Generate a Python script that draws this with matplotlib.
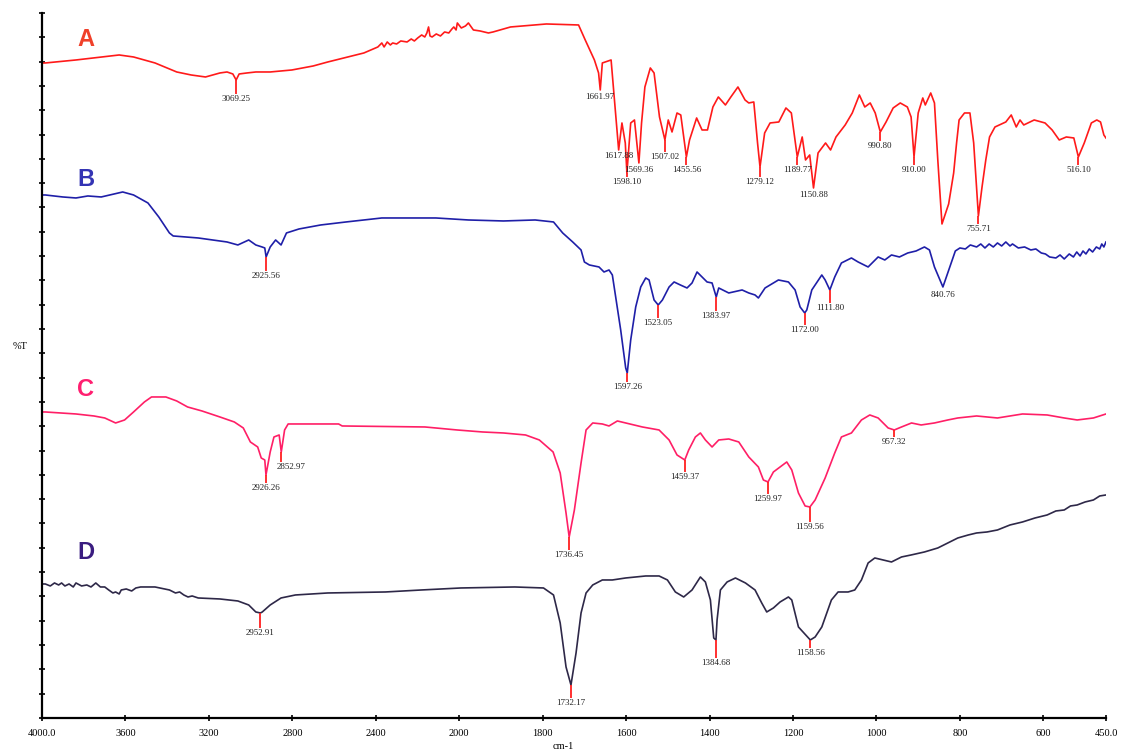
import numpy as np
import matplotlib.pyplot as plt


# wavenumber (cm-1) / stacked %T for the four spectra, high to low wavenumber
a_wn = [4000, 3984, 3837, 3630, 3561, 3458, 3354, 3285, 3216, 3147, 3113, 3085, 3069.25, 3055, 3018,
        2975, 2906, 2802, 2700, 2630, 2457, 2390, 2371, 2360, 2345, 2330, 2319, 2300, 2280, 2250,
        2230, 2215, 2199, 2180, 2165, 2155, 2147, 2140, 2130, 2110, 2090, 2070, 2050, 2035, 2026,
        2015, 2009, 1995, 1985, 1978, 1966, 1950, 1930, 1919, 1877, 1791, 1714, 1698, 1676, 1666,
        1661.97, 1657, 1636,
        1632, 1617.88, 1610, 1602, 1598.10, 1589, 1580, 1569.36, 1563, 1555, 1542, 1533, 1520,
        1507.02, 1499, 1490, 1478, 1469, 1455.56, 1448, 1431, 1418, 1405, 1392, 1379, 1362, 1349,
        1332, 1315, 1306, 1294, 1285, 1279.12, 1268, 1255, 1234, 1217, 1204, 1189.77, 1178, 1170,
        1160, 1150.88, 1140, 1122, 1110, 1097, 1075, 1058, 1041, 1028, 1015, 1003, 990.80, 977, 960,
        943, 926, 917, 910.00, 900, 889, 883, 870, 861, 853, 843, 827, 815, 808, 802, 789, 776, 767,
        760, 755.71, 747, 738, 729, 716, 690, 677, 665, 656, 647, 622, 596, 579, 562, 545, 527,
        516.10, 502, 485, 472, 463, 455, 450]
a_t = [625, 625, 628, 633, 631, 625, 616, 613, 611, 615, 616, 614, 608, 614, 615,
       616, 616, 618, 622, 626, 635, 641, 645, 641, 646, 643, 645, 644, 647, 646,
       649, 647, 650, 653, 651, 655, 661, 652, 651, 654, 652, 656, 655, 659, 661,
       658, 665, 660, 662, 665, 658, 657, 655, 656, 661, 664, 663, 648, 628, 615,
       598, 625, 628,
       608, 538, 565, 545, 515, 565, 568, 525, 565, 601, 620, 615, 571,
       548, 568, 556, 575, 573, 531, 548, 570, 558, 558, 581, 591, 583, 591,
       601, 588, 585, 586, 545, 521, 555, 565, 566, 580, 575, 531, 551, 528,
       533, 500, 535, 545, 538, 551, 563, 575, 593, 581, 585, 575, 556, 566, 580,
       585, 581, 571, 531, 575, 590, 583, 595, 585, 528, 464, 484, 515, 545, 568, 575, 575, 545,
       500, 472, 501, 528, 551, 561, 566, 573, 561, 568, 563, 568, 565, 558, 548, 551, 550,
       531, 545, 565, 568, 566, 553, 550]

b_wn = [4000, 3984, 3900, 3837, 3780, 3716, 3613, 3561, 3492, 3440, 3389, 3371, 3251, 3113, 3061,
        3009, 2975, 2945, 2932, 2925.56, 2906, 2880, 2854, 2828, 2768, 2664, 2543, 2371, 2285,
        2112, 1978, 1894, 1818, 1774, 1752, 1728, 1708, 1700, 1688, 1665, 1653, 1641, 1633, 1625,
        1613, 1601, 1597.26, 1589, 1577, 1565, 1553, 1545, 1533, 1523.05, 1513, 1497, 1485, 1470,
        1454, 1442, 1430, 1418, 1406, 1394, 1383.97, 1378, 1354, 1322, 1306, 1291, 1283, 1267,
        1235, 1211, 1195, 1183, 1172.00, 1167, 1155, 1131, 1123, 1111.80, 1100, 1084, 1060, 1044,
        1020, 996, 980, 964, 945, 925, 905, 885, 873, 861, 840.76, 825, 811, 800, 787, 775, 760,
        750, 740, 730, 720, 710, 700, 690, 680, 674, 660, 645, 630, 618, 605, 595, 585, 570, 560,
        550, 538, 528, 520, 512, 505, 498, 490, 482, 473, 465, 460, 455, 450]
b_t = [493, 493, 491, 490, 492, 491, 496, 493, 485, 471, 455, 452, 450, 446, 443,
       448, 443, 441, 440, 431, 441, 448, 443, 455, 459, 463, 466, 470, 470,
       470, 468, 467, 468, 466, 455, 446, 438, 426, 423, 421, 416, 418, 413, 391,
       358, 320, 315, 348, 381, 401, 410, 408, 388, 383, 388, 401, 406, 403,
       400, 405, 416, 411, 406, 405, 391, 400, 395, 398, 395, 393, 390, 400,
       408, 406, 398, 381, 375, 378, 398, 413, 408, 398, 411, 425, 430, 426,
       421, 431, 428, 433, 431, 435, 437, 441, 438, 421, 401, 420, 437, 440, 439, 443, 441,
       444, 440, 444, 441, 445, 442, 446, 442, 444, 440, 441, 438, 439, 435, 434, 431, 430, 433,
       429, 434, 431, 436, 432, 437, 434, 439, 436, 441, 439, 444, 441, 446]

c_wn = [4000, 3984, 3837, 3751, 3699, 3647, 3604, 3561, 3509, 3475, 3406, 3354, 3302, 3233, 3147,
        3078, 3035, 3001, 2966, 2949, 2932, 2926.26, 2906, 2888, 2863, 2852.97, 2837, 2820, 2578,
        2561, 2164, 2010, 1944, 1894, 1841, 1808, 1775, 1758, 1744, 1736.45, 1724, 1708, 1696,
        1680, 1657, 1641, 1621, 1601, 1561, 1521, 1497, 1478, 1459.37, 1450, 1434, 1422, 1410,
        1394, 1378, 1354, 1330, 1306, 1283, 1271, 1259.97, 1247, 1215, 1203, 1187, 1171, 1159.56,
        1147, 1123, 1100, 1084, 1060, 1036, 1016, 996, 972, 957.32, 940, 916, 893, 861, 829, 805,
        760, 710, 650, 591, 550, 519, 480, 450]
c_t = [276, 276, 274, 272, 270, 265, 268, 276, 286, 291, 291, 287, 281, 277, 271,
       266, 260, 246, 241, 230, 228, 213, 236, 251, 253, 236, 258, 264, 264,
       262, 261, 258, 256, 255, 253, 248, 236, 215, 175, 151, 178, 225, 258,
       265, 264, 262, 267, 265, 261, 258, 248, 233, 228, 238, 251, 255, 248,
       241, 248, 249, 246, 231, 221, 208, 206, 216, 226, 218, 195, 182, 181,
       188, 210, 235, 251, 255, 268, 273, 270, 260, 258, 261, 265, 263, 265, 268, 270,
       272, 270, 274, 273, 270, 268, 270, 274]

d_wn = [4000, 3984, 3960, 3940, 3920, 3906, 3890, 3870, 3850, 3837, 3810, 3785, 3765, 3742, 3720,
        3699, 3680, 3660, 3647, 3630, 3620, 3596, 3570, 3550, 3527, 3458, 3389, 3360, 3340, 3320,
        3300, 3280, 3251, 3147, 3061, 3009, 2975, 2952.91, 2944, 2906, 2854, 2785, 2630, 2354, 2181,
        1996, 1867, 1798, 1774, 1758, 1744, 1732.17, 1720, 1708, 1696, 1680, 1657, 1633, 1601,
        1553, 1521, 1501, 1482, 1462, 1442, 1422, 1410, 1398, 1390, 1384.68, 1382, 1374, 1358,
        1338, 1314, 1291, 1275, 1263, 1247, 1231, 1211, 1203, 1187, 1158.56, 1147, 1131, 1108,
        1092, 1068, 1052, 1036, 1020, 1004, 984, 964, 940, 917, 885, 853, 829, 805, 780, 760,
        735, 710, 680, 650, 620, 591, 570, 550, 535, 519, 500, 480, 465, 450]
d_t = [104, 104, 102, 105, 103, 105, 102, 104, 101, 105, 102, 103, 101, 105, 101,
       101, 98, 95, 96, 94, 98, 99, 97, 100, 101, 101, 98, 95, 96, 93,
       91, 92, 90, 89, 87, 83, 76, 75, 76, 83, 90, 93, 95, 96, 98,
       100, 101, 100, 93, 65, 21, 3, 35, 75, 95, 103, 108, 108, 110,
       112, 112, 108, 96, 91, 98, 111, 106, 88, 50, 48, 68, 98, 106,
       110, 105, 98, 85, 76, 80, 86, 91, 88, 61, 48, 51, 61, 88,
       96, 96, 98, 108, 125, 130, 128, 126, 131, 133, 136, 140, 145, 150, 153, 155,
       156, 158, 163, 166, 170, 173, 177, 178, 182, 183, 186, 188, 192, 193]

# marked peak positions
a_peaks = [3069.25, 1661.97, 1617.88, 1598.10, 1569.36, 1507.02, 1455.56, 1279.12, 1189.77,
           1150.88, 990.80, 910.00, 755.71, 516.10]
b_peaks = [2925.56, 1597.26, 1523.05, 1383.97, 1172.00, 1111.80, 840.76]
c_peaks = [2926.26, 2852.97, 1736.45, 1459.37, 1259.97, 1159.56, 957.32]
d_peaks = [2952.91, 1732.17, 1384.68, 1158.56]

# how far below each dip its label sits
a_gap = [19, 7, 6, 9, 7, 17, 13, 15, 13, 7, 14, 13, 13, 13]
b_gap = [19, 14, 18, 19, 17, 18, 8]
c_gap = [13, 15, 18, 17, 17, 20, 12]
d_gap = [20, 18, 23, 13]

xticks = [4000, 3600, 3200, 2800, 2400, 2000, 1800, 1600, 1400, 1200, 1000, 800, 600, 450]
xticklabels = ['4000.0', '3600', '3200', '2800', '2400', '2000', '1800', '1600', '1400',
               '1200', '1000', '800', '600', '450.0']


# the region below 2000 cm-1 is drawn at twice the scale
def fwd(w):
    w = np.asarray(w, dtype=float)
    return np.where(w <= 2000, 2 * w, w + 2000)


def inv(u):
    u = np.asarray(u, dtype=float)
    return np.where(u <= 4000, u / 2, u - 2000)


fig = plt.figure(figsize=(11.22, 7.5), dpi=100)
ax = fig.add_axes([0.0374, 0.0427, 0.9483, 0.94])
ax.set_xscale('function', functions=(fwd, inv))
ax.set_xlim(4000, 450)
ax.set_ylim(-30, 675)

serif = 'Liberation Serif'
spectra = [
    ('A', a_wn, a_t, a_peaks, a_gap, '#ff1a1a', '#f0402a', 648),
    ('B', b_wn, b_t, b_peaks, b_gap, '#1f1fa8', '#3434b4', 508),
    ('C', c_wn, c_t, c_peaks, c_gap, '#ff1f66', '#ff1f70', 298),
    ('D', d_wn, d_t, d_peaks, d_gap, '#2e2848', '#3a1c80', 135),
]
for name, wn, t, peaks, gaps, col, lcol, ly in spectra:
    ax.plot(wn, t, color=col, lw=1.2)
    ax.text(3790, ly, name, color=lcol, fontsize=17, fontweight='bold',
            family='Liberation Sans', ha='center', va='center')
    wn_r = np.array(wn[::-1])
    t_r = np.array(t[::-1])
    for p, g in zip(peaks, gaps):
        dip = np.interp(p, wn_r, t_r)
        lab_y = dip - g
        if g > 8:
            ax.vlines(p, lab_y + 5, dip, color='#ff2020', lw=1.3)
        px = p
        if p == 2852.97:
            px = 2805
        ax.text(px, lab_y, f'{p:.2f}', fontsize=6.5, family=serif,
                ha='center', va='center', color='#222222')

ax.set_xticks(xticks)
ax.set_xticklabels(xticklabels, family=serif, fontsize=7.5)
ax.minorticks_off()
ax.set_yticks(np.linspace(-30, 675, 30))
ax.set_yticklabels([])
ax.tick_params(axis='both', direction='inout', length=4, width=1.2, color='black')
ax.tick_params(axis='x', pad=6)

for side in ['top', 'right']:
    ax.spines[side].set_visible(False)
for side in ['left', 'bottom']:
    ax.spines[side].set_linewidth(1.6)

ax.set_ylabel('%T', rotation=0, family=serif, fontsize=7.5)
ax.yaxis.set_label_coords(-0.021, 0.52)
ax.set_xlabel('cm-1', family=serif, fontsize=7.5)
ax.xaxis.set_label_coords(0.49, -0.034)

fig.savefig('out.png', dpi=100)
